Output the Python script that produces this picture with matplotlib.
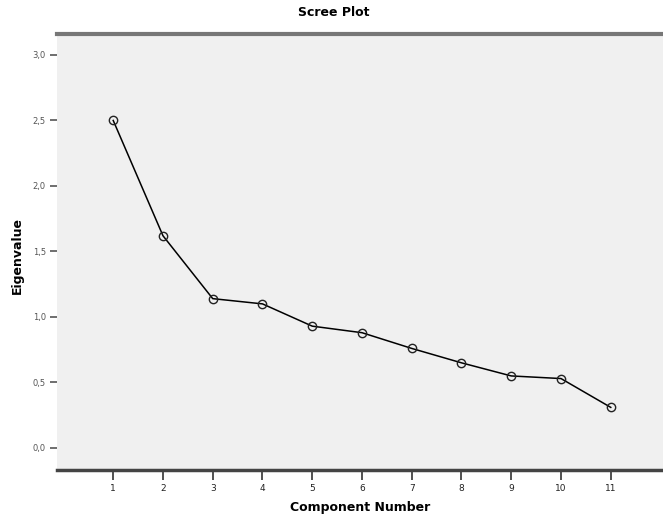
import matplotlib
matplotlib.use("Agg")
import matplotlib.pyplot as plt

# Scree plot data: eigenvalue for each extracted component
components = [1, 2, 3, 4, 5, 6, 7, 8, 9, 10, 11]
eigenvalues = [2.50, 1.62, 1.14, 1.10, 0.93, 0.88, 0.76, 0.65, 0.55, 0.53, 0.31]

y_ticks = [0.0, 0.5, 1.0, 1.5, 2.0, 2.5, 3.0]
y_tick_labels = ["0,0", "0,5", "1,0", "1,5", "2,0", "2,5", "3,0"]
x_tick_labels = [str(c) for c in components]

W, H = 663, 519
fig = plt.figure(figsize=(W / 100, H / 100), dpi=100)
fig.patch.set_facecolor("white")

left, right, top, bottom = 57, 663, 34, 470
ax = fig.add_axes([left / W, 1 - bottom / H, (right - left) / W, (bottom - top) / H])
ax.set_facecolor("#f0f0f0")

ax.plot(components, eigenvalues, color="black", linewidth=1.1,
        marker="o", markersize=6, markerfacecolor="none",
        markeredgecolor="#222222", markeredgewidth=1.0, zorder=3)

ax.set_xlim(-0.13, 12.05)
ax.set_ylim(-0.168, 3.16)

ax.set_xticks(components)
ax.set_xticklabels(x_tick_labels)
ax.set_yticks(y_ticks)
ax.set_yticklabels(y_tick_labels)

ax.tick_params(axis="x", direction="out", length=7, width=1.2, color="#333333",
               labelsize=6.5, labelcolor="#222222", pad=3)
ax.tick_params(axis="y", direction="out", length=5, width=1.2, color="#555555",
               labelsize=6, labelcolor="#555555", pad=3)

for side in ("left", "right"):
    ax.spines[side].set_visible(False)
ax.spines["top"].set_color("#777777")
ax.spines["top"].set_linewidth(3)
ax.spines["bottom"].set_color("#444444")
ax.spines["bottom"].set_linewidth(2.5)

# Axis titles placed at fixed figure positions
fig.text(360 / W, 1 - 507 / H, "Component Number", ha="center", va="center",
         fontsize=9, fontweight="bold")
fig.text(17 / W, 1 - 255 / H, "Eigenvalue", ha="center", va="center",
         rotation=90, fontsize=9, fontweight="bold")

fig.text(0.503, 1 - 13 / H, "Scree Plot", ha="center", va="center",
         fontsize=9, fontweight="bold")

fig.savefig("out.png", dpi=100)
